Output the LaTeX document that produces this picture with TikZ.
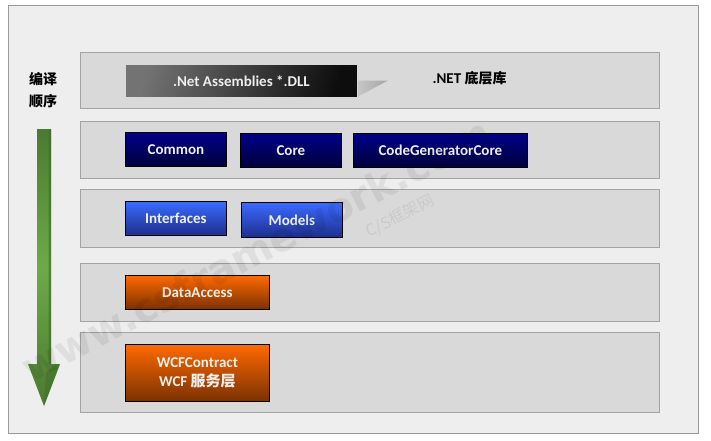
\documentclass[tikz,border=0pt]{standalone}
\usepackage{fontspec}
\setmainfont{Carlito}
\newfontfamily\cjk{Noto Sans CJK SC}
\newfontfamily\wmfont{DejaVu Sans}
\usetikzlibrary{shadings}
\definecolor{framebg}{HTML}{EEEEEE}
\definecolor{frameline}{HTML}{9A9A9A}
\definecolor{layerbg}{HTML}{D9D9D9}
\definecolor{layerline}{HTML}{A3A3A3}
\definecolor{navytop}{HTML}{000088}
\definecolor{navybot}{HTML}{00003C}
\definecolor{bluetop}{HTML}{3A6BFF}
\definecolor{bluebot}{HTML}{1E2E8C}
\definecolor{orgtop}{HTML}{FF6A00}
\definecolor{orgbot}{HTML}{7A3000}
\definecolor{greenA}{HTML}{4B7A30}
\definecolor{greenB}{HTML}{6DAA47}
\definecolor{greenC}{HTML}{3E6A28}
\definecolor{boxtext}{HTML}{EEEEEE}
\tikzset{
  layer/.style={draw=layerline, fill=layerbg, line width=0.9pt, inner sep=0pt, anchor=north west},
  modbox/.style={draw=black, line width=0.8pt, inner sep=0pt, text=boxtext,
     font=\bfseries\fontsize{15}{17}\selectfont, align=center},
  navybox/.style={modbox, top color=navytop, bottom color=navybot},
  bluebox/.style={modbox, top color=bluetop, bottom color=bluebot},
  orgbox/.style={modbox, top color=orgtop, bottom color=orgbot},
  cjklabel/.style={font=\cjk\bfseries\fontsize{14}{22}\selectfont, text=black, align=center},
  wmark/.style={text=black, opacity=0.065, rotate=27.5, inner sep=0pt}
}
\begin{document}
\begin{tikzpicture}[x=1pt,y=-1pt]
\useasboundingbox (0,0) rectangle (711,440);
\fill[white] (0,0) rectangle (711,440);
\draw[frameline, fill=framebg, line width=1pt] (8,5) rectangle (698,433);
% layers
\node (l1) [layer, minimum width=579pt, minimum height=56pt] at (80,52) {};
\node (l2) [layer, minimum width=579pt, minimum height=57pt] at (80,121) {};
\node (l3) [layer, minimum width=579pt, minimum height=58pt] at (80,189) {};
\node (l4) [layer, minimum width=579pt, minimum height=58pt] at (80,263) {};
\node (l5) [layer, minimum width=579pt, minimum height=80pt] at (80,332) {};
% layer 1
\shade[left color=black!22, right color=black!35] (357,80.5) -- (388,80.5) -- (357,97) -- cycle;
\node (net) [draw=white!85!black, line width=0.8pt, inner sep=0pt,
   minimum width=232pt, minimum height=33pt, anchor=north west,
   left color=black!55, right color=black!95, shading angle=75,
   text=boxtext, font=\bfseries\fontsize{15}{17}\selectfont] at (125,64) {.Net Assemblies *.DLL};
\node (netlbl) [font=\bfseries\fontsize{15}{17}\selectfont, anchor=west] at (429,78) {.NET {\cjk\bfseries\fontsize{14}{17}\selectfont 底层库}};
% layer 2
\node (common) [navybox, minimum width=101pt, minimum height=34pt, anchor=north west] at (125,132) {Common};
\node (core) [navybox, minimum width=101pt, minimum height=34pt, anchor=north west] at (240,133) {Core};
\node (cgc) [navybox, minimum width=174pt, minimum height=34pt, anchor=north west] at (353,133) {CodeGeneratorCore};
% layer 3
\node (ifaces) [bluebox, minimum width=101pt, minimum height=34pt, anchor=north west] at (125,201) {Interfaces};
\node (models) [bluebox, minimum width=101pt, minimum height=35pt, anchor=north west] at (241,202) {Models};
% layer 4
\node (da) [orgbox, minimum width=144pt, minimum height=34pt, anchor=north west] at (125,275) {DataAccess};
% layer 5
\node (wcf) [orgbox, minimum width=144pt, minimum height=57pt, anchor=north west] at (125,344) {WCFContract\\[2pt]WCF {\cjk\bfseries\fontsize{15}{17}\selectfont 服务层}};
% order label and arrow
\node (order) [cjklabel] at (43,90) {编译\\顺序};
\shade[top color=greenA, bottom color=greenA, middle color=greenB]
  (37,129) -- (51,129) -- (51,364) -- (60,364) -- (44,406) -- (28,364) -- (37,364) -- cycle;
\fill[greenC, opacity=0.6] (48.5,131) -- (51,129) -- (51,364) -- (48.5,364) -- cycle;
\fill[greenC, opacity=0.45] (60,364) -- (44,406) -- (46,372) -- (56,364) -- cycle;
% watermark
\node (wm1) [wmark, font=\wmfont\bfseries\fontsize{40}{40}\selectfont] at (256,250) {www.csframework.com};
\node (wm2) [wmark, font=\cjk\fontsize{16}{16}\selectfont] at (400,216) {C/S框架网};
\end{tikzpicture}
\end{document}
